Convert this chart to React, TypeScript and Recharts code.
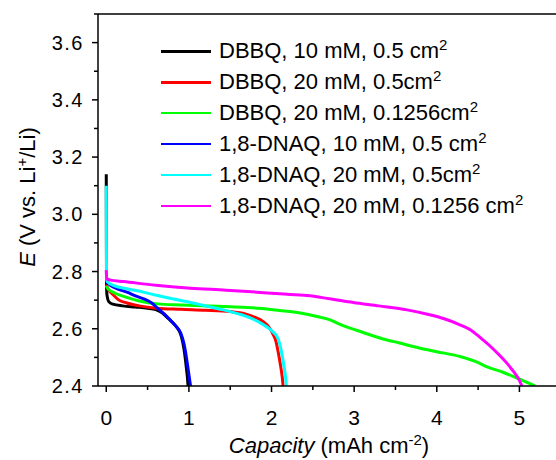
import React from 'react';
import { LineChart, Line, XAxis, YAxis, Legend, ReferenceLine } from 'recharts';

// discharge curves, [capacity (mAh cm-2), E (V vs Li+/Li)]
const dbbq10 = [
  [0, 3.14], [0.003, 2.75], [0.01, 2.715], [0.03, 2.695], [0.08, 2.686], [0.2, 2.68],
  [0.35, 2.676], [0.5, 2.672], [0.6, 2.667], [0.68, 2.655], [0.75, 2.636], [0.84, 2.61],
  [0.88, 2.594], [0.91, 2.572], [0.94, 2.53], [0.967, 2.47], [0.982, 2.43], [0.99, 2.4],
];
const dbbq20 = [
  [0, 2.755], [0.02, 2.74], [0.08, 2.72], [0.15, 2.701], [0.25, 2.69], [0.4, 2.68],
  [0.6, 2.672], [0.9, 2.668], [1.2, 2.665], [1.5, 2.66], [1.7, 2.65], [1.8, 2.64],
  [1.9, 2.625], [1.97, 2.605], [2.02, 2.58], [2.05, 2.56], [2.08, 2.52], [2.11, 2.47],
  [2.13, 2.43], [2.14, 2.4],
];
const dbbq20Small = [
  [0, 2.75], [0.02, 2.74], [0.1, 2.725], [0.21, 2.713], [0.4, 2.697], [0.62, 2.687],
  [0.9, 2.683], [1.22, 2.68], [1.5, 2.677], [1.83, 2.672], [2.1, 2.664], [2.35, 2.655],
  [2.55, 2.643], [2.71, 2.631], [2.83, 2.615], [2.95, 2.602], [3.1, 2.588], [3.32, 2.567],
  [3.55, 2.55], [3.8, 2.532], [4.0, 2.52], [4.28, 2.503], [4.5, 2.482], [4.6, 2.468],
  [4.8, 2.448], [4.93, 2.433], [5.05, 2.418], [5.19, 2.4],
];
const dnaq10 = [
  [0, 2.765], [0.05, 2.752], [0.15, 2.738], [0.25, 2.728], [0.37, 2.713], [0.47, 2.703],
  [0.55, 2.69], [0.62, 2.672], [0.7, 2.652], [0.77, 2.632], [0.84, 2.61], [0.9, 2.586],
  [0.94, 2.548], [0.97, 2.5], [0.995, 2.45], [1.01, 2.42], [1.02, 2.4],
];
const dnaq20 = [
  [0, 3.1], [0.003, 2.78], [0.01, 2.765], [0.1, 2.75], [0.25, 2.74], [0.45, 2.728],
  [0.62, 2.716], [0.8, 2.705], [1.02, 2.692], [1.2, 2.68], [1.42, 2.666], [1.6, 2.652],
  [1.75, 2.637], [1.88, 2.618], [1.99, 2.596], [2.08, 2.565], [2.12, 2.52], [2.15, 2.47],
  [2.17, 2.43], [2.18, 2.4],
];
const dnaq20Small = [
  [0, 2.805], [0.005, 2.775], [0.05, 2.77], [0.21, 2.765], [0.6, 2.752], [1.02, 2.742],
  [1.45, 2.735], [1.82, 2.728], [2.1, 2.722], [2.43, 2.716], [2.7, 2.705], [2.99, 2.692],
  [3.3, 2.68], [3.64, 2.666], [3.9, 2.65], [4.08, 2.636], [4.28, 2.614], [4.41, 2.596],
  [4.53, 2.568], [4.65, 2.538], [4.75, 2.51], [4.85, 2.479], [4.93, 2.45], [4.99, 2.425],
  [5.03, 2.4],
];

const seriesNames = [
  ['DBBQ, 10 mM, 0.5 cm', '2'],
  ['DBBQ, 20 mM, 0.5cm', '2'],
  ['DBBQ, 20 mM, 0.1256cm', '2'],
  ['1,8-DNAQ, 10 mM, 0.5 cm', '2'],
  ['1,8-DNAQ, 20 mM, 0.5cm', '2'],
  ['1,8-DNAQ, 20 mM, 0.1256 cm', '2'],
];
const seriesData = [dbbq10, dbbq20, dbbq20Small, dnaq10, dnaq20, dnaq20Small];
const seriesColors = ['#000000', '#ff0000', '#00ff00', '#0000ff', '#00ffff', '#ff00ff'];

const xTicks = [0, 0.5, 1, 1.5, 2, 2.5, 3, 3.5, 4, 4.5, 5, 5.5];
const xLabels = [0, 1, 2, 3, 4, 5];
const yTicks = [2.4, 2.5, 2.6, 2.7, 2.8, 2.9, 3.0, 3.1, 3.2, 3.3, 3.4, 3.5, 3.6, 3.7];
const yLabels = ['2.4', '2.6', '2.8', '3.0', '3.2', '3.4', '3.6'];

const FONT = 'Arial, "Liberation Sans", sans-serif';

const XTick = (props: any) => {
  const { x, y, payload } = props;
  const major = xLabels.some((v) => Math.abs(v - payload.value) < 1e-6);
  return (
    <g>
      <line x1={x} x2={x} y1={y} y2={y + (major ? 6 : 4)} stroke="#000" strokeWidth={1.5} />
      {major && (
        <text x={x} y={y + 39} textAnchor="middle" fontSize={21} fontFamily={FONT} fill="#000">
          {payload.value}
        </text>
      )}
    </g>
  );
};

const YTick = (props: any) => {
  const { x, y, payload } = props;
  const label = yLabels.find((v) => Math.abs(parseFloat(v) - payload.value) < 1e-6);
  return (
    <g>
      <line x1={x - (label ? 6 : 4)} x2={x} y1={y} y2={y} stroke="#000" strokeWidth={1.5} />
      {label && (
        <text x={x - 14} y={y + 7} textAnchor="end" fontSize={20} fontFamily={FONT} fill="#000" letterSpacing={1.5}>
          {label}
        </text>
      )}
    </g>
  );
};

const renderLegend = () => (
  <div style={{ fontFamily: FONT, fontSize: 22, color: '#000' }}>
    {seriesNames.map((n, i) => (
      <div key={i} style={{ height: 30.9, display: 'flex', alignItems: 'center', whiteSpace: 'nowrap' }}>
        <div style={{ width: 50, height: 2.5, background: seriesColors[i], marginRight: 8 }} />
        <span>
          {n[0]}
          <span style={{ fontSize: 15, position: 'relative', top: -8 }}>{n[1]}</span>
        </span>
      </div>
    ))}
  </div>
);

const App: React.FC = () => {
  return (
    <div style={{ position: 'fixed', left: 0, top: 0, width: 556, height: 460, overflow: 'hidden', background: '#fff' }}>
      <LineChart width={580} height={460} margin={{ top: 14, right: 11, bottom: 0, left: 0 }}>
        <XAxis
          type="number"
          dataKey="x"
          domain={[-0.1, 5.6]}
          ticks={xTicks}
          interval={0}
          allowDataOverflow
          height={74}
          tickSize={0}
          tickMargin={0}
          tickLine={false}
          tick={(p: any) => <XTick {...p} />}
          axisLine={{ stroke: '#000', strokeWidth: 1.5 }}
          label={{
            content: () => (
              <text x={329} y={453} textAnchor="middle" fontSize={22} fontFamily={FONT} fill="#000">
                <tspan fontStyle="italic">Capacity</tspan>
                <tspan> (mAh cm</tspan>
                <tspan dy={-8} fontSize={15}>-2</tspan>
                <tspan dy={8}>)</tspan>
              </text>
            ),
          }}
        />
        <YAxis
          type="number"
          dataKey="y"
          domain={[2.4, 3.7]}
          ticks={yTicks}
          interval={0}
          allowDataOverflow
          width={98}
          tickSize={0}
          tickMargin={0}
          tickLine={false}
          tick={(p: any) => <YTick {...p} />}
          axisLine={{ stroke: '#000', strokeWidth: 1.5 }}
          label={{
            content: () => (
              <text x={35} y={197} transform="rotate(-90, 35, 197)" textAnchor="middle" fontSize={22} fontFamily={FONT} fill="#000">
                <tspan fontStyle="italic">E</tspan>
                <tspan> (V vs. Li</tspan>
                <tspan dy={-8} fontSize={15}>+</tspan>
                <tspan dy={8}>/Li)</tspan>
              </text>
            ),
          }}
        />
        <ReferenceLine y={3.7} stroke="#000" strokeWidth={1.5} ifOverflow="visible" />
        <ReferenceLine x={5.6} stroke="#000" strokeWidth={1.5} ifOverflow="visible" />
        {seriesData.map((d, i) => (
          <Line
            key={i}
            data={d.map(([x, y]) => ({ x, y }))}
            dataKey="y"
            name={seriesNames[i].join('')}
            stroke={seriesColors[i]}
            strokeWidth={3}
            dot={false}
            activeDot={false}
            isAnimationActive={false}
            type="monotone"
          />
        ))}
        <Legend
          layout="vertical"
          align="center"
          verticalAlign="middle"
          content={renderLegend}
          wrapperStyle={{ position: 'absolute', left: 161, top: 36, width: 'auto', height: 'auto' }}
        />
      </LineChart>
    </div>
  );
};

export default App;
